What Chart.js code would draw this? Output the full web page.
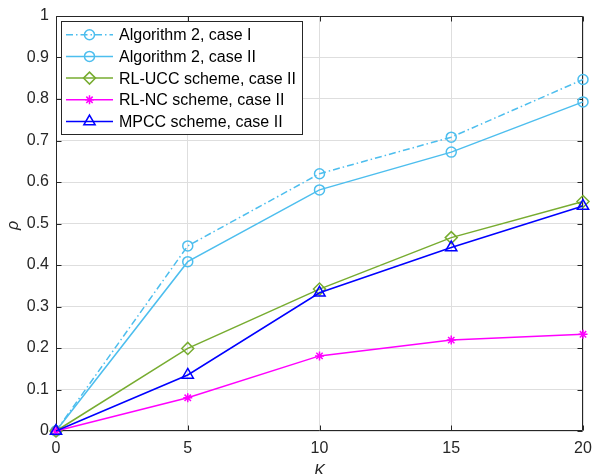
<!DOCTYPE html>
<html><head><meta charset="utf-8">
<script src="https://cdn.jsdelivr.net/npm/chart.js@4/dist/chart.umd.min.js"></script>
<style>html,body{margin:0;padding:0;background:#fff;overflow:hidden}</style>
</head><body>
<canvas id="c" width="592" height="474"></canvas>
<script>
// K values on the horizontal axis
const kValues = [0, 5, 10, 15, 20];

// rho for each scheme
const alg2CaseI   = [0, 0.446, 0.620, 0.708, 0.847];
const alg2CaseII  = [0, 0.408, 0.581, 0.672, 0.793];
const rlUccCaseII = [0, 0.199, 0.342, 0.466, 0.553];
const rlNcCaseII  = [0, 0.080, 0.181, 0.219, 0.233];
const mpccCaseII  = [0, 0.135, 0.333, 0.442, 0.542];

const seriesNames = [
  'Algorithm 2, case I',
  'Algorithm 2, case II',
  'RL-UCC scheme, case II',
  'RL-NC scheme, case II',
  'MPCC scheme, case II'
];

const xTickValues = [0, 5, 10, 15, 20];
const yTickValues = [0, 0.1, 0.2, 0.3, 0.4, 0.5, 0.6, 0.7, 0.8, 0.9, 1];

const FONT = '"Liberation Sans", Arial, Helvetica, sans-serif';
const AXIS_COLOR = '#262626';
const GRID_COLOR = '#dedede';

function toPoints(ys) {
  return kValues.map((k, i) => ({ x: k, y: ys[i] }));
}

const styles = [
  { color: '#4dbeee', dash: [7, 3, 1.5, 3], marker: 'circle',  radius: 5 },
  { color: '#4dbeee', dash: [],            marker: 'circle',  radius: 5 },
  { color: '#77ac30', dash: [],            marker: 'rectRot', radius: 6 },
  { color: '#ff00ff', dash: [],            marker: 'star',    radius: 4.5 },
  { color: '#0000ff', dash: [],            marker: 'triangle', radius: 6.5 }
];
const seriesValues = [alg2CaseI, alg2CaseII, rlUccCaseII, rlNcCaseII, mpccCaseII];

const datasets = seriesValues.map((vals, i) => ({
  label: seriesNames[i],
  data: toPoints(vals),
  borderColor: styles[i].color,
  backgroundColor: 'rgba(0,0,0,0)',
  borderWidth: 1.5,
  borderDash: styles[i].dash,
  pointStyle: styles[i].marker,
  pointRadius: styles[i].radius,
  pointHoverRadius: styles[i].radius,
  pointBorderColor: styles[i].color,
  pointBackgroundColor: 'rgba(0,0,0,0)',
  pointBorderWidth: 1.5,
  tension: 0,
  clip: false,
  order: seriesValues.length - i
}));

// Box around the plot with inward ticks on all four sides, plus axis titles
const framePlugin = {
  id: 'frame',
  beforeDatasetsDraw(chart) {
    const ctx = chart.ctx;
    const a = chart.chartArea;
    const xs = chart.scales.x, ys = chart.scales.y;
    const tl = 5;
    ctx.save();
    ctx.strokeStyle = AXIS_COLOR;
    ctx.lineWidth = 1;
    ctx.beginPath();
    const L = Math.round(a.left) + 0.5, R = Math.round(a.right) - 0.5;
    const T = Math.round(a.top) + 0.5, B = Math.round(a.bottom) - 0.5;
    ctx.rect(L, T, R - L, B - T);
    xTickValues.forEach(v => {
      const px = Math.round(xs.getPixelForValue(v)) + 0.5;
      ctx.moveTo(px, B); ctx.lineTo(px, B - tl);
      ctx.moveTo(px, T); ctx.lineTo(px, T + tl);
    });
    yTickValues.forEach(v => {
      const py = Math.round(ys.getPixelForValue(v)) + 0.5;
      ctx.moveTo(L, py); ctx.lineTo(L + tl, py);
      ctx.moveTo(R, py); ctx.lineTo(R - tl, py);
    });
    ctx.stroke();
    ctx.restore();
  },
  afterDraw(chart) {
    const ctx = chart.ctx;
    const a = chart.chartArea;
    ctx.save();
    ctx.fillStyle = AXIS_COLOR;
    ctx.font = 'italic 16px ' + FONT;
    ctx.textAlign = 'center';
    ctx.textBaseline = 'middle';
    ctx.fillText('K', (a.left + a.right) / 2, 472);
    ctx.translate(14, (a.top + a.bottom) / 2 + 2);
    ctx.rotate(-Math.PI / 2);
    ctx.fillText('\u03c1', 0, 0);
    ctx.restore();

    // legend box
    const bx = 61, by = 21, bw = 241, bh = 113;
    ctx.save();
    ctx.fillStyle = '#ffffff';
    ctx.fillRect(bx, by, bw, bh);
    ctx.strokeStyle = AXIS_COLOR;
    ctx.lineWidth = 1;
    ctx.strokeRect(bx + 0.5, by + 0.5, bw, bh);
    chart.data.datasets.forEach((ds, i) => {
      const cy = 34.7 + i * 21.7;
      ctx.save();
      ctx.strokeStyle = ds.borderColor;
      ctx.lineWidth = ds.borderWidth;
      ctx.setLineDash(ds.borderDash || []);
      ctx.beginPath();
      ctx.moveTo(66, cy);
      ctx.lineTo(113, cy);
      ctx.stroke();
      ctx.setLineDash([]);
      ctx.fillStyle = 'rgba(0,0,0,0)';
      Chart.helpers.drawPoint(ctx, {
        pointStyle: ds.pointStyle,
        radius: ds.pointRadius,
        rotation: 0,
        borderWidth: ds.pointBorderWidth
      }, 89.5, cy);
      ctx.restore();
      ctx.fillStyle = '#000000';
      ctx.font = '16px ' + FONT;
      ctx.textAlign = 'left';
      ctx.textBaseline = 'middle';
      ctx.fillText(ds.label, 119, cy + 1);
    });
    ctx.restore();
  }
};

new Chart(document.getElementById('c'), {
  type: 'line',
  data: { datasets },
  options: {
    responsive: false,
    devicePixelRatio: 1,
    animation: false,
    events: [],
    layout: { padding: { left: 0, top: 16, right: 0, bottom: 0 } },
    plugins: { legend: { display: false }, tooltip: { enabled: false } },
    scales: {
      x: {
        type: 'linear',
        min: 0, max: 20,
        afterBuildTicks: s => { s.ticks = xTickValues.map(v => ({ value: v })); },
        afterFit: s => {
          s.height = 43;
          s.paddingLeft = 0; s.paddingRight = 9;
          s.paddingTop = 0; s.paddingBottom = 0;
        },
        grid: { color: GRID_COLOR, lineWidth: 1, drawTicks: false },
        border: { display: false },
        ticks: {
          padding: 8,
          color: AXIS_COLOR,
          font: { family: FONT, size: 16 },
          maxRotation: 0,
          callback: v => String(v)
        }
      },
      y: {
        type: 'linear',
        min: 0, max: 1,
        afterBuildTicks: s => { s.ticks = yTickValues.map(v => ({ value: v })); },
        afterFit: s => {
          s.width = 56;
          s.paddingTop = 0; s.paddingBottom = 0;
        },
        grid: { color: GRID_COLOR, lineWidth: 1, drawTicks: false },
        border: { display: false },
        ticks: {
          padding: 7,
          color: AXIS_COLOR,
          font: { family: FONT, size: 16 },
          callback: v => String(Number(v.toFixed(1)))
        }
      }
    }
  },
  plugins: [framePlugin]
});
</script>
</body></html>
